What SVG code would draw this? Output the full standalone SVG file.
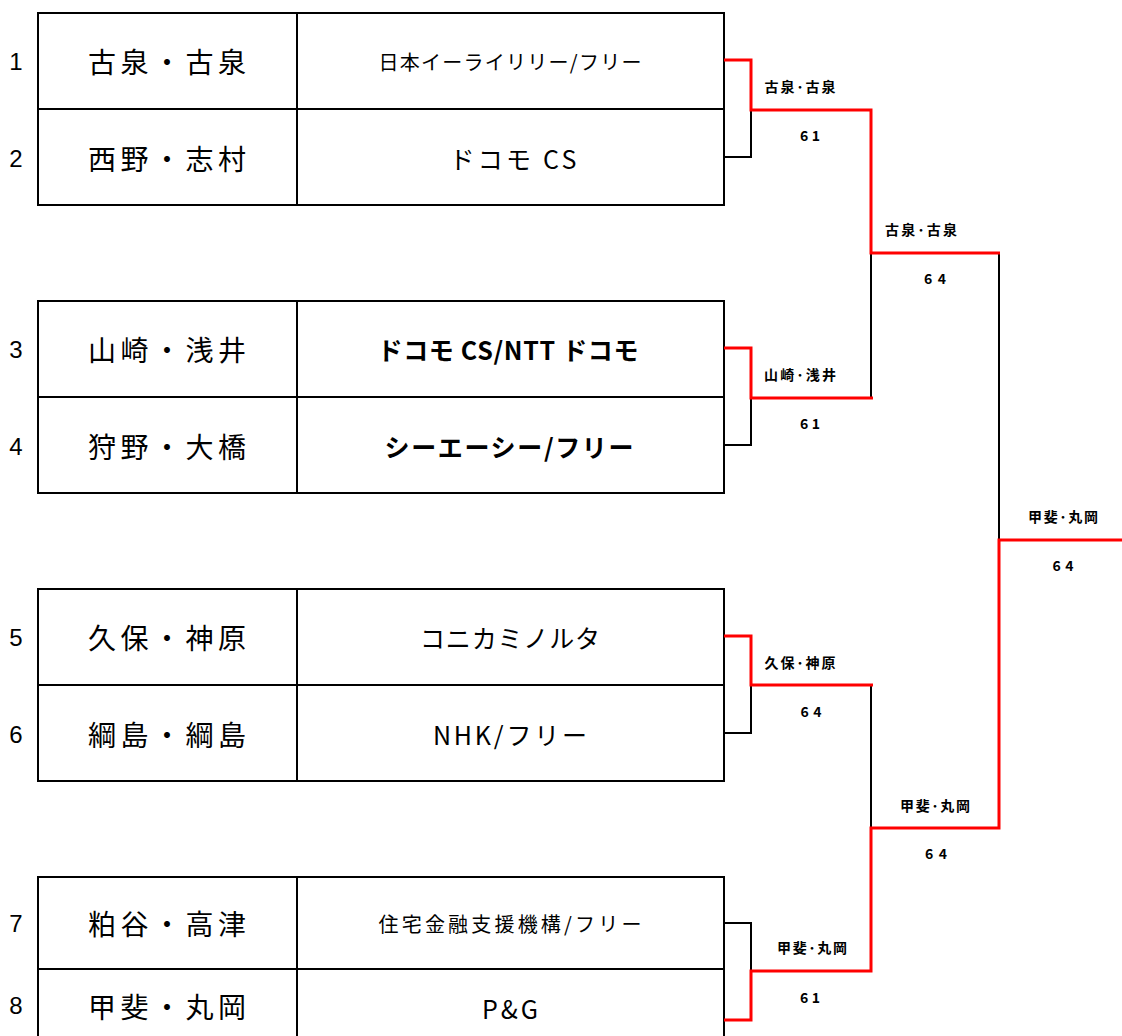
<svg xmlns="http://www.w3.org/2000/svg" width="1122" height="1036" viewBox="0 0 1122 1036">
<style>
.box{fill:none;stroke:#000;stroke-width:2}
.seed{font-family:"Liberation Sans","Noto Sans CJK JP",sans-serif;font-size:24px;fill:#000;text-anchor:middle;dominant-baseline:central}
.name{font-family:"Noto Sans CJK JP",sans-serif;font-size:28px;fill:#000;text-anchor:middle;dominant-baseline:central}
.org{font-family:"Noto Sans CJK JP",sans-serif;font-size:25px;fill:#000;text-anchor:middle;dominant-baseline:central}
.orgs{font-family:"Noto Sans CJK JP",sans-serif;font-size:20px;fill:#000;text-anchor:middle;dominant-baseline:central}
.orgb{font-family:"Noto Sans CJK JP",sans-serif;font-size:25px;font-weight:bold;fill:#000;text-anchor:middle;dominant-baseline:central}
.lbl{font-family:"Noto Sans CJK JP",sans-serif;font-size:14px;font-weight:bold;fill:#000;text-anchor:middle;dominant-baseline:central}
.blk{fill:none;stroke:#000;stroke-width:2}
.red{fill:none;stroke:#f00;stroke-width:3}
</style>
<rect width="1122" height="1036" fill="#fff"/>
<g id="block1">
<rect class="box" x="38" y="13" width="686" height="192"/>
<line class="box" x1="38" y1="109" x2="724" y2="109"/>
<line class="box" x1="297" y1="13" x2="297" y2="205"/>
<text class="seed" x="16" y="61">1</text>
<text class="seed" x="16" y="158">2</text>
<text class="name" x="167" y="61" textLength="158">古泉・古泉</text>
<text class="name" x="167" y="158" textLength="158">西野・志村</text>
<text class="orgs" x="510" y="61" textLength="263">日本イーライリリー/フリー</text>
<text class="org" x="513" y="158" textLength="127">ドコモ CS</text>
</g>
<g id="block2">
<rect class="box" x="38" y="301" width="686" height="192"/>
<line class="box" x1="38" y1="397" x2="724" y2="397"/>
<line class="box" x1="297" y1="301" x2="297" y2="493"/>
<text class="seed" x="16" y="349">3</text>
<text class="seed" x="16" y="446">4</text>
<text class="name" x="167" y="349" textLength="158">山崎・浅井</text>
<text class="name" x="167" y="446" textLength="158">狩野・大橋</text>
<text class="orgb" x="508" y="349" textLength="261">ドコモ CS/NTT ドコモ</text>
<text class="orgb" x="509" y="446" textLength="249">シーエーシー/フリー</text>
</g>
<g id="block3">
<rect class="box" x="38" y="589" width="686" height="192"/>
<line class="box" x1="38" y1="685" x2="724" y2="685"/>
<line class="box" x1="297" y1="589" x2="297" y2="781"/>
<text class="seed" x="16" y="637">5</text>
<text class="seed" x="16" y="734">6</text>
<text class="name" x="167" y="637" textLength="158">久保・神原</text>
<text class="name" x="167" y="734" textLength="158">綱島・綱島</text>
<text class="org" x="510" y="637" textLength="180">コニカミノルタ</text>
<text class="org" x="510" y="734" textLength="154">NHK/フリー</text>
</g>
<g id="block4">
<rect class="box" x="38" y="877" width="686" height="192"/>
<line class="box" x1="38" y1="969" x2="724" y2="969"/>
<line class="box" x1="297" y1="877" x2="297" y2="1069"/>
<text class="seed" x="16" y="923">7</text>
<text class="seed" x="16" y="1005">8</text>
<text class="name" x="167" y="923" textLength="158">粕谷・高津</text>
<text class="name" x="167" y="1006" textLength="158">甲斐・丸岡</text>
<text class="orgs" x="510" y="923" textLength="263">住宅金融支援機構/フリー</text>
<text class="org" x="510" y="1008" textLength="56">P&amp;G</text>
</g>
<g id="connectors">
<path class="blk" d="M724,157 H751 V110"/>
<path class="blk" d="M724,445 H751 V398"/>
<path class="blk" d="M724,733 H751 V685"/>
<path class="blk" d="M724,923 H751 V971"/>
<path class="blk" d="M871,253 V398"/>
<path class="blk" d="M871,685 V828"/>
<path class="blk" d="M999,253 V540"/>
<path class="red" d="M724,60 H751 V110 H871 V253 H1000"/>
<path class="red" d="M724,348 H751 V398 H873"/>
<path class="red" d="M724,636 H751 V685 H873"/>
<path class="red" d="M724,1020 H751 V971 H871 V828 H999 V540 H1122"/>
</g>
<g id="labels">
<text class="lbl" x="800" y="86" textLength="71">古泉･古泉</text>
<text class="lbl" x="810" y="135" textLength="20">6 1</text>
<text class="lbl" x="800" y="374" textLength="72">山崎･浅井</text>
<text class="lbl" x="810" y="423" textLength="20">6 1</text>
<text class="lbl" x="800" y="662" textLength="71">久保･神原</text>
<text class="lbl" x="811" y="711" textLength="21">6 4</text>
<text class="lbl" x="812" y="947" textLength="70">甲斐･丸岡</text>
<text class="lbl" x="810" y="997" textLength="20">6 1</text>
<text class="lbl" x="921" y="229" textLength="72">古泉･古泉</text>
<text class="lbl" x="935" y="278" textLength="22">6 4</text>
<text class="lbl" x="935" y="805" textLength="70">甲斐･丸岡</text>
<text class="lbl" x="936" y="853" textLength="22">6 4</text>
<text class="lbl" x="1063" y="516" textLength="70">甲斐･丸岡</text>
<text class="lbl" x="1063" y="565" textLength="21">6 4</text>
</g>
</svg>
